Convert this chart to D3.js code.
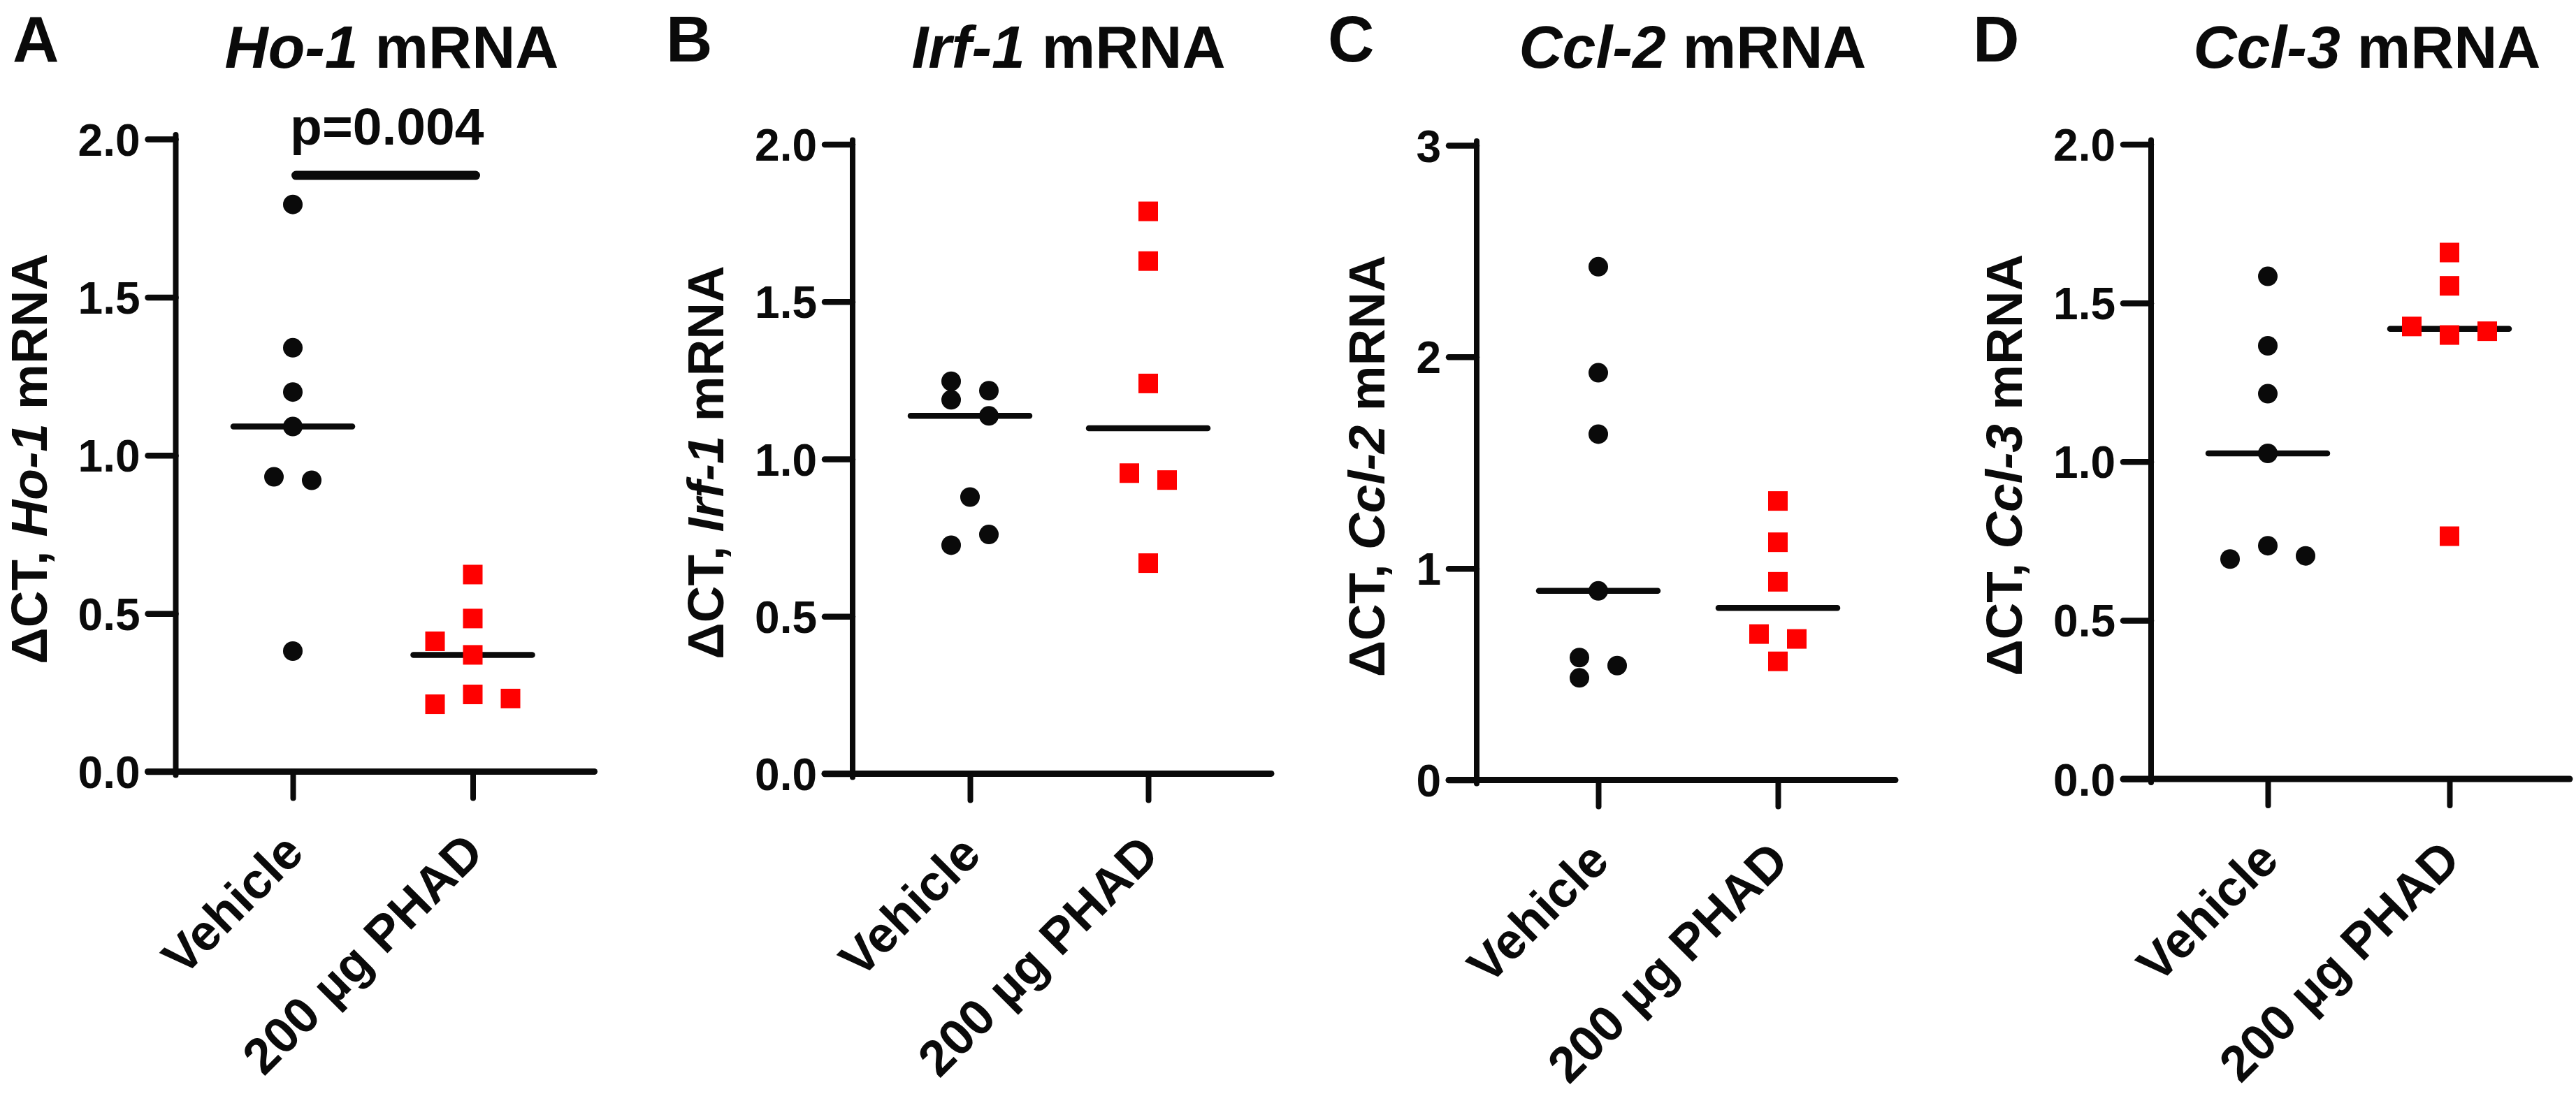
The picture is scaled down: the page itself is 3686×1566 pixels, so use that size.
<!DOCTYPE html>
<html><head><meta charset="utf-8">
<script src="https://cdn.jsdelivr.net/npm/d3@7"></script>
<style>
html,body{margin:0;padding:0;background:#fff;}
svg{display:block;}
text{font-family:"Liberation Sans",Arial,Helvetica,sans-serif;font-weight:bold;fill:#0a0a0a;}
</style></head><body>
<script>
// ---------------- data ----------------
const groups = ["Vehicle", "200 µg PHAD"];
const genes = ["Ho-1", "Irf-1", "Ccl-2", "Ccl-3"];
const panelLetters = ["A", "B", "C", "D"];
const yMaxima = [2, 2, 3, 2];

const tickValues2 = [0, 0.5, 1, 1.5, 2];
const tickLabels2 = ["0.0", "0.5", "1.0", "1.5", "2.0"];
const tickValues3 = [0, 1, 2, 3];
const tickLabels3 = ["0", "1", "2", "3"];

// ΔCT values per group (Vehicle = black circles, PHAD = red squares)
const hoVehicle  = [1.793, 1.340, 1.200, 1.091, 0.932, 0.921, 0.381];
const hoPhad     = [0.623, 0.484, 0.412, 0.369, 0.244, 0.213, 0.231];
const irfVehicle = [1.247, 1.188, 1.217, 1.137, 0.879, 0.726, 0.760];
const irfPhad    = [1.787, 1.629, 1.240, 0.955, 0.933, 0.669];
const cclTwoVehicle = [2.426, 1.925, 1.635, 0.894, 0.579, 0.541, 0.483];
const cclTwoPhad    = [1.319, 1.124, 0.937, 0.690, 0.667, 0.561];
const cclThreeVehicle = [1.584, 1.365, 1.214, 1.026, 0.693, 0.735, 0.703];
const cclThreePhad    = [1.659, 1.554, 1.426, 1.399, 1.411, 0.765];

// column-scatter spread slot of each point
const hoVehicleSpread  = [0, 0, 0, 0, -1, 1, 0];
const hoPhadSpread     = [0, 0, -2, 0, 0, -2, 2];
const irfVehicleSpread = [-1, -1, 1, 1, 0, -1, 1];
const irfPhadSpread    = [0, 0, 0, -1, 1, 0];
const cclTwoVehicleSpread = [0, 0, 0, 0, -1, 1, -1];
const cclTwoPhadSpread    = [0, 0, 0, -1, 1, 0];
const cclThreeVehicleSpread = [0, 0, 0, 0, -2, 0, 2];
const cclThreePhadSpread    = [0, 0, -2, 0, 2, 0];

const pValueLabel = "p=0.004";
const pValueBarLevel = 1.885;
const pValueTextLevel = 1.983;

// ---------------- layout (pixels) ----------------
const W = 3686, H = 1566;
const layout = [
  {axisX: 251.5, x1: 419, x2: 676.5, y0: 1104.5, yTop: 199,   letterX: 18},
  {axisX: 1220,  x1: 1388, x2: 1643, y0: 1107.4, yTop: 206.6, letterX: 953},
  {axisX: 2113,  x1: 2287, x2: 2544, y0: 1116.6, yTop: 208,   letterX: 1900},
  {axisX: 3078,  x1: 3245, x2: 3505, y0: 1115,   yTop: 206.6, letterX: 2823}
];

const panels = [
  {gene: genes[0], letter: panelLetters[0], yMax: yMaxima[0], ticks: tickValues2, labels: tickLabels2,
   series: [{vals: hoVehicle, spread: hoVehicleSpread}, {vals: hoPhad, spread: hoPhadSpread}], pval: true},
  {gene: genes[1], letter: panelLetters[1], yMax: yMaxima[1], ticks: tickValues2, labels: tickLabels2,
   series: [{vals: irfVehicle, spread: irfVehicleSpread}, {vals: irfPhad, spread: irfPhadSpread}]},
  {gene: genes[2], letter: panelLetters[2], yMax: yMaxima[2], ticks: tickValues3, labels: tickLabels3,
   series: [{vals: cclTwoVehicle, spread: cclTwoVehicleSpread}, {vals: cclTwoPhad, spread: cclTwoPhadSpread}]},
  {gene: genes[3], letter: panelLetters[3], yMax: yMaxima[3], ticks: tickValues2, labels: tickLabels2,
   series: [{vals: cclThreeVehicle, spread: cclThreeVehicleSpread}, {vals: cclThreePhad, spread: cclThreePhadSpread}]}
];

const INK = "#0a0a0a", RED = "#ff0000";
const svg = d3.select("body").append("svg").attr("width", W).attr("height", H);
svg.append("rect").attr("width", W).attr("height", H).attr("fill", "#fff");

panels.forEach((p, i) => {
  const L = layout[i];
  const g = svg.append("g");
  const y = d3.scaleLinear().domain([0, p.yMax]).range([L.y0, L.yTop]);
  const x = d3.scalePoint().domain(groups).range([L.x1, L.x2]);
  const spread = d3.scaleLinear().domain([0, 1]).range([0, 27]);

  // y axis with ticks
  const ya = g.append("g").attr("transform", `translate(${L.axisX},0)`)
    .call(d3.axisLeft(y).tickValues(p.ticks).tickFormat((d, k) => p.labels[k])
      .tickSize(40).tickPadding(11).tickSizeOuter(0));
  ya.select(".domain").remove();
  ya.selectAll(".tick line").attr("stroke", INK).attr("stroke-width", 8.5).attr("stroke-linecap", "round");
  ya.selectAll(".tick text").attr("fill", INK).style("font-size", "64px").attr("dy", "0.36em");
  // axis spine
  g.append("line").attr("x1", L.axisX).attr("x2", L.axisX)
    .attr("y1", y(p.yMax) - 6).attr("y2", y(0) + 5)
    .attr("stroke", INK).attr("stroke-width", 8).attr("stroke-linecap", "round");

  // x axis
  g.append("line").attr("x1", L.axisX - 40).attr("x2", L.axisX + 599)
    .attr("y1", y(0)).attr("y2", y(0))
    .attr("stroke", INK).attr("stroke-width", 9).attr("stroke-linecap", "round");
  const xa = g.append("g").attr("transform", `translate(0,${y(0)})`)
    .call(d3.axisBottom(x).tickSize(38).tickSizeOuter(0));
  xa.select(".domain").remove();
  xa.selectAll(".tick line").attr("stroke", INK).attr("stroke-width", 8).attr("stroke-linecap", "round");
  xa.selectAll(".tick text")
    .attr("fill", INK).style("font-size", "72px")
    .attr("text-anchor", "end").attr("x", 0).attr("y", 0).attr("dy", "0.36em")
    .attr("transform", "translate(0,101) rotate(-45)");

  // y-axis title
  const bb = ya.node().getBBox();
  const titleX = L.axisX + bb.x - 45;
  const cy = (y(0) + y(p.yMax)) / 2 + 5;
  const yt = g.append("text").attr("transform", `translate(${titleX},${cy}) rotate(-90)`)
    .attr("text-anchor", "middle").style("font-size", "73px");
  yt.append("tspan").text("ΔCT, ");
  yt.append("tspan").style("font-style", "italic").text(p.gene);
  yt.append("tspan").text(" mRNA");

  // panel title
  const tt = g.append("text").attr("x", L.axisX + 309).attr("y", 97)
    .attr("text-anchor", "middle").style("font-size", "86px");
  tt.append("tspan").style("font-style", "italic").text(p.gene);
  tt.append("tspan").text(" mRNA");

  // panel letter
  g.append("text").attr("x", L.letterX).attr("y", 88).style("font-size", "92px").text(p.letter);

  // median lines
  p.series.forEach((s, k) => {
    const m = d3.median(s.vals);
    g.append("line").attr("x1", x(groups[k]) - 85).attr("x2", x(groups[k]) + 85)
      .attr("y1", y(m)).attr("y2", y(m))
      .attr("stroke", INK).attr("stroke-width", 8.5).attr("stroke-linecap", "round");
  });

  // points
  const veh = p.series[0], phad = p.series[1];
  g.selectAll("circle.pt").data(veh.vals.map((v, j) => ({v, s: veh.spread[j]})))
    .join("circle").attr("class", "pt")
    .attr("cx", d => x(groups[0]) + spread(d.s)).attr("cy", d => y(d.v))
    .attr("r", 14).attr("fill", INK);
  g.selectAll("rect.pt").data(phad.vals.map((v, j) => ({v, s: phad.spread[j]})))
    .join("rect").attr("class", "pt")
    .attr("x", d => x(groups[1]) + spread(d.s) - 14).attr("y", d => y(d.v) - 14)
    .attr("width", 28).attr("height", 28).attr("fill", RED);

  // significance annotation
  if (p.pval) {
    g.append("line").attr("x1", x(groups[0]) + 4.5).attr("x2", x(groups[1]) + 4)
      .attr("y1", y(pValueBarLevel)).attr("y2", y(pValueBarLevel))
      .attr("stroke", INK).attr("stroke-width", 13).attr("stroke-linecap", "round");
    g.append("text").attr("x", (x(groups[0]) + x(groups[1])) / 2 + 6).attr("y", y(pValueTextLevel))
      .attr("text-anchor", "middle").style("font-size", "75px").text(pValueLabel);
  }
});
</script>
</body></html>
